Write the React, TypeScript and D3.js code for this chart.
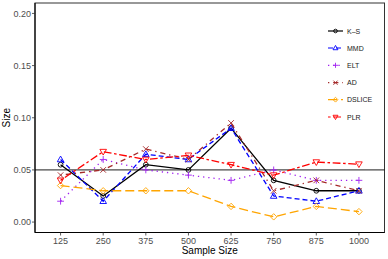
import * as d3 from 'd3';

const sampleSizes = ['125', '250', '375', '500', '625', '750', '875', '1000'];
const ksValues = [0.055, 0.025, 0.055, 0.05, 0.09, 0.04, 0.03, 0.03];
const mmdValues = [0.06, 0.02, 0.065, 0.06, 0.09, 0.025, 0.02, 0.03];
const eltValues = [0.02, 0.06, 0.05, 0.045, 0.04, 0.05, 0.04, 0.04];
const adValues = [0.045, 0.05, 0.07, 0.06, 0.095, 0.03, 0.04, 0.03];
const dsliceValues = [0.035, 0.03, 0.03, 0.03, 0.015, 0.005, 0.015, 0.01];
const plrValues = [0.04, 0.0675, 0.06, 0.064, 0.055, 0.045, 0.0575, 0.0555];
const yTicks = [0, 0.05, 0.1, 0.15, 0.2];

const series = [
  { name: 'K\u2013S', values: ksValues, color: '#000000', dash: null, shape: 'circle' },
  { name: 'MMD', values: mmdValues, color: '#0000ff', dash: '5,3', shape: 'triangle' },
  { name: 'ELT', values: eltValues, color: '#a020f0', dash: '1.3,3.9', shape: 'plus' },
  { name: 'AD', values: adValues, color: '#a52a2a', dash: '1.3,3.9,5.2,3.9', shape: 'cross' },
  { name: 'DSLICE', values: dsliceValues, color: '#ffa500', dash: '9,4', shape: 'diamond' },
  { name: 'PLR', values: plrValues, color: '#ff0000', dash: '2.6,2.6,7.8,2.6', shape: 'down' },
];

const font = 'Liberation Sans, Arial, Helvetica, sans-serif';

function Marker({ shape, x, y, color, k = 1 }) {
  const s = 2.8 * k;
  const common = { fill: 'none', stroke: color, strokeWidth: 0.9 };
  if (shape === 'circle') return <circle cx={x} cy={y} r={2.4 * k} {...common} />;
  if (shape === 'triangle')
    return <path d={`M${x},${y - 3.4 * k}L${x + 3.3 * k},${y + 2.3 * k}L${x - 3.3 * k},${y + 2.3 * k}Z`} {...common} />;
  if (shape === 'down')
    return <path d={`M${x},${y + 3.4 * k}L${x + 3.3 * k},${y - 2.3 * k}L${x - 3.3 * k},${y - 2.3 * k}Z`} {...common} />;
  if (shape === 'diamond')
    return <path d={`M${x},${y - 3.2 * k}L${x + 3.2 * k},${y}L${x},${y + 3.2 * k}L${x - 3.2 * k},${y}Z`} {...common} />;
  if (shape === 'plus')
    return <path d={`M${x - 3.4 * k},${y}H${x + 3.4 * k}M${x},${y - 3.4 * k}V${y + 3.4 * k}`} {...common} />;
  return <path d={`M${x - s},${y - s}L${x + s},${y + s}M${x + s},${y - s}L${x - s},${y + s}`} {...common} />;
}

export default function App() {
  const width = 388;
  const height = 259;
  const left = 35;
  const right = 384.5;
  const top = 3;
  const bottom = 232.5;

  const x = d3.scalePoint().domain(sampleSizes).range([left, right]).padding(0.6);
  const y = d3.scaleLinear().domain([-0.01, 0.21]).range([bottom, top]);

  const line = d3
    .line<number>()
    .x((_, i) => x(sampleSizes[i]) ?? 0)
    .y((d) => y(d));

  const legendY = [31, 48, 65.3, 82.7, 99.7, 117];

  return (
    <svg
      width={width}
      height={height}
      style={{ position: 'absolute', left: 0, top: 0, background: '#fff' }}
      fontFamily={font}
    >
      <rect x={left} y={top} width={right - left} height={bottom - top} fill="#fff" stroke="#333" strokeWidth={1} />
      <line x1={left} x2={left} y1={top} y2={bottom} stroke="#000" strokeWidth={1.1} />
      <line x1={left} x2={right} y1={bottom} y2={bottom} stroke="#000" strokeWidth={1.1} />

      {yTicks.map((t) => (
        <g key={t}>
          <line x1={left - 3} x2={left} y1={y(t)} y2={y(t)} stroke="#333" strokeWidth={0.8} />
          <text x={left - 4} y={y(t) + 3.2} textAnchor="end" fontSize={9} fill="#4d4d4d">
            {t.toFixed(2)}
          </text>
        </g>
      ))}
      {sampleSizes.map((s) => (
        <g key={s}>
          <line x1={x(s)} x2={x(s)} y1={bottom} y2={bottom + 3} stroke="#333" strokeWidth={0.8} />
          <text x={x(s)} y={bottom + 11.5} textAnchor="middle" fontSize={9} fill="#4d4d4d">
            {s}
          </text>
        </g>
      ))}
      <text x={(left + right) / 2} y={254} textAnchor="middle" fontSize={10} fill="#000">
        Sample Size
      </text>
      <text transform={`translate(10,${(top + bottom) / 2}) rotate(-90)`} textAnchor="middle" fontSize={10} fill="#000">
        Size
      </text>

      <line x1={left} x2={right} y1={y(0.05)} y2={y(0.05)} stroke="#000" strokeWidth={0.9} />

      {series.map((s) => (
        <g key={s.name}>
          <path d={line(s.values) ?? ''} fill="none" stroke={s.color} strokeWidth={1.3} strokeDasharray={s.dash ?? undefined} />
          {s.values.map((v, i) => (
            <Marker key={i} shape={s.shape} x={x(sampleSizes[i]) ?? 0} y={y(v)} color={s.color} />
          ))}
        </g>
      ))}

      {series.map((s, i) => (
        <g key={s.name}>
          <line x1={328} x2={343} y1={legendY[i]} y2={legendY[i]} stroke={s.color} strokeWidth={1.2} strokeDasharray={s.dash ?? undefined} />
          <Marker shape={s.shape} x={335.5} y={legendY[i]} color={s.color} k={0.75} />
          <text x={347} y={legendY[i] + 2.5} fontSize={7} fill="#1a1a1a">
            {s.name}
          </text>
        </g>
      ))}
    </svg>
  );
}
